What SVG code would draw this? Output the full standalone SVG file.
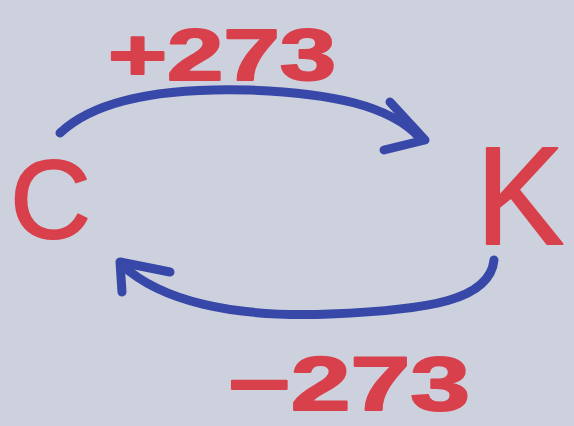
<svg xmlns="http://www.w3.org/2000/svg" width="574" height="426" viewBox="0 0 574 426">
<style>
.lbl{font-family:"Liberation Sans",Arial,sans-serif;fill:#d8404c;stroke:#d8404c;stroke-linejoin:round}
.arr{fill:none;stroke:#3848a8;stroke-width:9;stroke-linecap:round;stroke-linejoin:round}
</style>
<rect width="574" height="426" fill="#cdd1dd"/>
<g id="node-C"><text class="lbl" x="10" y="238" font-size="112" stroke-width="2">C</text></g>
<g id="node-K"><text class="lbl" x="476" y="244" font-size="140" stroke-width="2" textLength="88" lengthAdjust="spacingAndGlyphs">K</text></g>
<g id="connectors">
<path class="arr" d="M60,133 C100,95 180,88 250,90 C330,93 390,105 420,138"/>
<path class="arr" d="M390,102 L425,140 L384,150"/>
<path class="arr" d="M494,260 C490,300 430,310 330,314 C230,318 160,300 122,265"/>
<path class="arr" d="M170,272 L120,262 L122,292"/>
</g>
<g id="label-plus"><text class="lbl" x="108" y="80" font-size="72" font-weight="bold" stroke-width="2" textLength="228" lengthAdjust="spacingAndGlyphs">+273</text></g>
<g id="label-minus"><text class="lbl" x="228" y="410" font-size="76" font-weight="bold" stroke-width="2" textLength="242" lengthAdjust="spacingAndGlyphs">−273</text></g>
</svg>
